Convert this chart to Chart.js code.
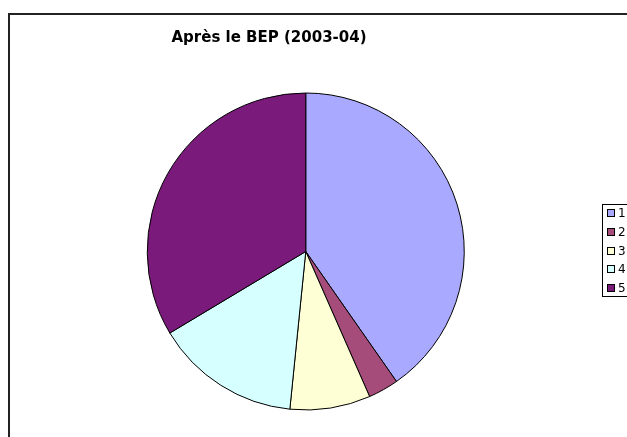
<!DOCTYPE html>
<html>
<head>
<meta charset="utf-8">
<script src="https://cdn.jsdelivr.net/npm/chart.js@4/dist/chart.umd.min.js"></script>
<style>
  html, body { margin:0; padding:0; background:#fff; overflow:hidden; }
  #wrap { position:relative; width:627px; height:437px; }
</style>
</head>
<body>
<div id="wrap"><canvas id="pie1" width="627" height="437"></canvas></div>
<script>
var title_text = 'Après le BEP (2003-04)';
var slice_labels = ['1', '2', '3', '4', '5'];
var slice_values = [40.3, 3.1, 8.2, 14.8, 33.6];
var slice_colors = ['#A9A9FF', '#A64C7B', '#FFFFD6', '#D6FFFF', '#7A1A7A'];

// frame, title and legend the way the old spreadsheet drew them
var decor = {
  id: 'decor',
  afterDraw: function(chart) {
    var ctx = chart.ctx;
    ctx.save();
    ctx.strokeStyle = '#222';
    ctx.lineWidth = 2;
    ctx.strokeRect(9, 14, 1000, 1000);

    ctx.fillStyle = '#000';
    ctx.font = 'bold 15px "DejaVu Sans", Verdana, sans-serif';
    ctx.textAlign = 'center';
    ctx.textBaseline = 'middle';
    ctx.fillText(title_text, 269, 38);

    ctx.lineWidth = 1;
    ctx.strokeStyle = '#000';
    ctx.strokeRect(602.5, 204.5, 100, 92);
    ctx.font = '12px "DejaVu Sans", Verdana, sans-serif';
    ctx.textAlign = 'left';
    for (var i = 0; i < slice_labels.length; i++) {
      var y = 213 + i * 18.75;
      ctx.fillStyle = slice_colors[i];
      ctx.fillRect(607.5, Math.round(y) - 3.5, 7, 7);
      ctx.strokeRect(607.5, Math.round(y) - 3.5, 7, 7);
      ctx.fillStyle = '#000';
      ctx.fillText(slice_labels[i], 618, y + 1);
    }
    ctx.restore();
  }
};

var pie1 = new Chart(document.getElementById('pie1'), {
  type: 'pie',
  data: {
    labels: slice_labels,
    datasets: [{
      data: slice_values,
      backgroundColor: slice_colors,
      borderColor: '#000',
      borderWidth: 1
    }]
  },
  options: {
    responsive: false,
    animation: false,
    layout: { padding: { left: 146.5, right: 162, top: 92.5, bottom: 26.5 } },
    plugins: {
      legend: { display: false },
      title: { display: false },
      tooltip: { enabled: false }
    }
  },
  plugins: [decor]
});
</script>
</body>
</html>
